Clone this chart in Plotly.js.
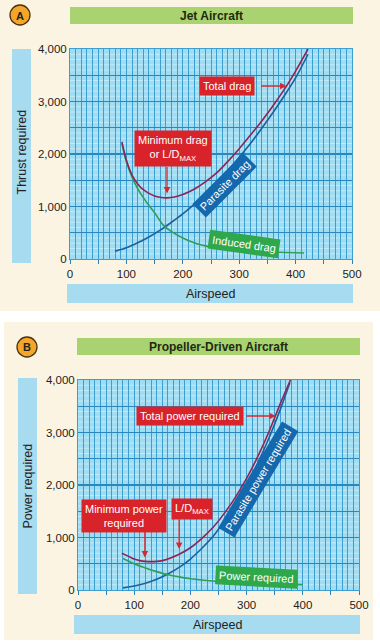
<!DOCTYPE html>
<html><head><meta charset="utf-8">
<script src="https://cdn.plot.ly/plotly-3.0.1.min.js"></script>
<style>html,body{margin:0;padding:0;background:#fff;}#chart{width:380px;height:641px;}</style>
</head><body><div id="chart"></div>
<script>
// ---------- Panel A: Jet Aircraft (thrust required vs airspeed) ----------
const jetParasiteX = [80, 100, 120, 140, 160, 180, 200, 220, 240, 260, 280, 300, 320, 340, 360, 380, 400, 422];
const jetParasite  = [150, 215, 310, 420, 550, 700, 860, 1040, 1240, 1450, 1690, 1940, 2200, 2490, 2790, 3110, 3450, 3900];
const jetInducedX  = [92, 100, 110, 120, 130, 140, 150, 165, 180, 200, 220, 240, 260, 280, 300, 340, 380, 415];
const jetInduced   = [2200, 1850, 1560, 1340, 1170, 1020, 880, 650, 520, 400, 310, 250, 205, 180, 160, 140, 125, 115];
const jetTotalX    = [92, 100, 110, 120, 130, 140, 150, 160, 172, 185, 200, 220, 240, 260, 280, 300, 320, 340, 360, 380, 400, 422];
const jetTotal     = [2230, 1880, 1600, 1430, 1320, 1250, 1200, 1175, 1165, 1180, 1230, 1330, 1470, 1640, 1860, 2100, 2360, 2630, 2920, 3230, 3580, 4000];

// ---------- Panel B: Propeller-Driven Aircraft (power required vs airspeed) ----------
const propParasiteX = [80, 100, 120, 140, 160, 180, 200, 220, 240, 260, 280, 300, 320, 340, 360, 377];
const propParasite  = [40, 75, 130, 205, 305, 430, 590, 790, 1020, 1300, 1620, 1990, 2420, 2900, 3440, 3950];
const propInducedX  = [80, 100, 120, 140, 160, 180, 200, 220, 240, 260, 280, 300, 320, 340, 360, 380, 400];
const propInduced   = [600, 500, 420, 350, 290, 250, 215, 190, 170, 155, 145, 135, 125, 118, 112, 107, 102];
const propTotalX    = [78, 90, 100, 110, 120, 130, 140, 150, 160, 180, 200, 220, 240, 260, 280, 300, 320, 340, 360, 378];
const propTotal     = [700, 640, 590, 560, 545, 540, 545, 560, 590, 680, 805, 980, 1190, 1455, 1765, 2125, 2545, 3020, 3550, 4000];

// ---------- Ticks ----------
const xTickVals = [0, 50, 100, 150, 200, 250, 300, 350, 400, 450, 500];
const xTickText = ['0', '', '100', '', '200', '', '300', '', '400', '', '500'];
const yTickVals = [0, 500, 1000, 1500, 2000, 2500, 3000, 3500, 4000];
const yTickText = ['0', '', '1,000', '', '2,000', '', '3,000', '', '4,000'];
const yMinorStep = 100;

const W = 380, H = 641;
const px = v => v / W;
const py = v => 1 - v / H;

const FONT = 'Liberation Sans, Arial, sans-serif';
const C_TOTAL = '#8e2456', C_PARA = '#1d5f9f', C_IND = '#2f9e5c';
const RED = '#d9232b', BLUEBOX = '#1468ad', GREENBOX = '#2fa84c';
const GRID = '#3c9fd2', GRIDMAJOR_Y = '#2b88be', GRIDMINOR_Y = '#c3ebf9';

function xAxis(domain, anchor) {
  return {
    domain: domain, anchor: anchor, range: [0, 500], fixedrange: true,
    tickmode: 'array', tickvals: xTickVals, ticktext: xTickText,
    ticks: 'outside', ticklen: 4, tickcolor: '#2f7fb5', tickwidth: 1,
    showgrid: true, gridcolor: GRID, gridwidth: 1,
    minor: {tickmode: 'linear', tick0: 0, dtick: 10, showgrid: true, gridcolor: GRID, gridwidth: 1},
    showline: true, mirror: true, linecolor: GRID, linewidth: 1, zeroline: false,
    tickfont: {family: FONT, size: 11.5, color: '#222'}
  };
}
function yAxis(domain, anchor) {
  return {
    domain: domain, anchor: anchor, range: [0, 4000], fixedrange: true,
    tickmode: 'array', tickvals: yTickVals, ticktext: yTickText, ticks: '',
    showgrid: true, gridcolor: GRIDMAJOR_Y, gridwidth: 1.2,
    showline: true, mirror: true, linecolor: GRID, linewidth: 1, zeroline: false,
    tickfont: {family: FONT, size: 11.5, color: '#222'}
  };
}

function line(x, y, color, xa, ya) {
  return {x: x, y: y, xaxis: xa, yaxis: ya, mode: 'lines', hoverinfo: 'skip',
          line: {color: color, width: 1.6, shape: 'spline', smoothing: 0.8}, showlegend: false};
}

const data = [
  line(jetParasiteX, jetParasite, C_PARA, 'x', 'y'),
  line(jetInducedX, jetInduced, C_IND, 'x', 'y'),
  line(jetTotalX, jetTotal, C_TOTAL, 'x', 'y'),
  line(propParasiteX, propParasite, C_PARA, 'x2', 'y2'),
  line(propInducedX, propInduced, C_IND, 'x2', 'y2'),
  line(propTotalX, propTotal, C_TOTAL, 'x2', 'y2')
];

function rect(x0, y0, x1, y1, fill, extra) {
  return Object.assign({type: 'rect', xref: 'paper', yref: 'paper', x0: px(x0), x1: px(x1), y0: py(y1), y1: py(y0),
    fillcolor: fill, line: {width: 0}, layer: 'below'}, extra || {});
}
function circle(cx, cy, r) {
  return {type: 'circle', xref: 'paper', yref: 'paper', x0: px(cx - r), x1: px(cx + r), y0: py(cy + r), y1: py(cy - r),
    fillcolor: '#f4a62a', line: {color: '#4a3210', width: 1.3}, layer: 'above'};
}
function label(x, y, text, opts) {
  return Object.assign({xref: 'paper', yref: 'paper', x: px(x), y: py(y), text: text, showarrow: false,
    xanchor: 'center', yanchor: 'middle', font: {family: FONT, size: 12, color: '#222'}}, opts || {});
}
function box(x, y, text, color, opts) {
  return label(x, y, text, Object.assign({bgcolor: color, borderpad: 2,
    font: {family: FONT, size: 11, color: '#ffffff'}}, opts || {}));
}
function arrow(xa, ya, x, y, ax, ay) {
  return {xref: xa, yref: ya, x: x, y: y, ax: ax, ay: ay, text: '', showarrow: true,
    arrowhead: 2, arrowsize: 1, arrowwidth: 1.3, arrowcolor: '#d22a30'};
}

const shapes = [
  rect(0, 0, 380, 311, '#fcf4e2'),
  rect(4, 322, 373, 640, '#fcf4e2'),
  {type: 'rect', xref: 'x domain', yref: 'y domain', x0: 0, x1: 1, y0: 0, y1: 1, fillcolor: '#a0dcf2', line: {width: 0}, layer: 'below'},
  {type: 'rect', xref: 'x2 domain', yref: 'y2 domain', x0: 0, x1: 1, y0: 0, y1: 1, fillcolor: '#a0dcf2', line: {width: 0}, layer: 'below'}
];
// faint minor horizontal grid lines, drawn beneath the vertical grid
['y', 'y2'].forEach(function (ya) {
  const xa = ya === 'y' ? 'x' : 'x2';
  for (let v = yMinorStep; v < 4000; v += yMinorStep) {
    if (v % 500 === 0) continue;
    shapes.push({type: 'line', xref: xa + ' domain', yref: ya, x0: 0, x1: 1, y0: v, y1: v,
      line: {color: GRIDMINOR_Y, width: 1}, layer: 'below'});
  }
});
shapes.push(
  rect(70, 7, 353, 24, '#a9d271'),
  rect(77, 338, 360, 355, '#a9d271'),
  rect(12, 49, 31, 263, '#a7dbef'),
  rect(67, 284, 353, 303, '#a7dbef'),
  rect(18, 378, 37, 594, '#a7dbef'),
  rect(74, 615, 360, 634, '#a7dbef'),
  circle(20, 15, 10),
  circle(27, 347, 10)
);

const annotations = [
  // headers and axis titles
  label(20, 15.5, '<b>A</b>', {font: {family: FONT, size: 11, color: '#222'}}),
  label(27, 347.5, '<b>B</b>', {font: {family: FONT, size: 11, color: '#222'}}),
  label(212, 15.5, '<b>Jet Aircraft</b>', {font: {family: FONT, size: 12, color: '#1f2a10'}}),
  label(218, 346.5, '<b>Propeller-Driven Aircraft</b>', {font: {family: FONT, size: 12, color: '#1f2a10'}}),
  label(21.5, 152, 'Thrust required', {textangle: -90, font: {family: FONT, size: 12.5, color: '#222'}}),
  label(210, 293.5, 'Airspeed', {font: {family: FONT, size: 12.5, color: '#222'}}),
  label(27.5, 486, 'Power required', {textangle: -90, font: {family: FONT, size: 12.5, color: '#222'}}),
  label(217, 624.5, 'Airspeed', {font: {family: FONT, size: 12.5, color: '#222'}}),

  // Panel A labels
  box(227, 86, 'Total drag', RED, {borderpad: 3}),
  arrow('x', 'y', 384, 3295, -27, 0),
  box(173, 149, 'Minimum drag<br>or L/D<sub>MAX</sub>', RED, {borderpad: 3}),
  arrow('x', 'y', 172, 1250, 0, -28),
  box(225, 185, 'Parasite drag', BLUEBOX, {textangle: -45, borderpad: 3}),
  box(244, 244, 'Induced drag', GREENBOX, {textangle: 8, borderpad: 3}),

  // Panel B labels
  box(190, 416, 'Total power required', RED, {borderpad: 3}),
  arrow('x2', 'y2', 352, 3314, -31, 0),
  box(124, 516, 'Minimum power<br>required', RED, {borderpad: 3}),
  arrow('x2', 'y2', 119, 620, 0, -27),
  box(192, 509, 'L/D<sub>MAX</sub>', RED, {borderpad: 3}),
  arrow('x2', 'y2', 180, 780, 0, -31),
  box(258, 480, 'Parasite power required', BLUEBOX, {textangle: -59, borderpad: 3}),
  box(256, 577, 'Power required', GREENBOX, {textangle: 3, borderpad: 3})
];

const layout = {
  width: W, height: H, margin: {l: 0, r: 0, t: 0, b: 0},
  paper_bgcolor: '#ffffff', plot_bgcolor: 'rgba(0,0,0,0)',
  showlegend: false,
  xaxis: xAxis([px(70), px(352)], 'y'),
  yaxis: yAxis([py(259), py(49)], 'x'),
  xaxis2: xAxis([px(78), px(359)], 'y2'),
  yaxis2: yAxis([py(590), py(380)], 'x2'),
  shapes: shapes,
  annotations: annotations,
  font: {family: FONT}
};

Plotly.newPlot('chart', data, layout, {staticPlot: true, displayModeBar: false});
</script></body></html>
